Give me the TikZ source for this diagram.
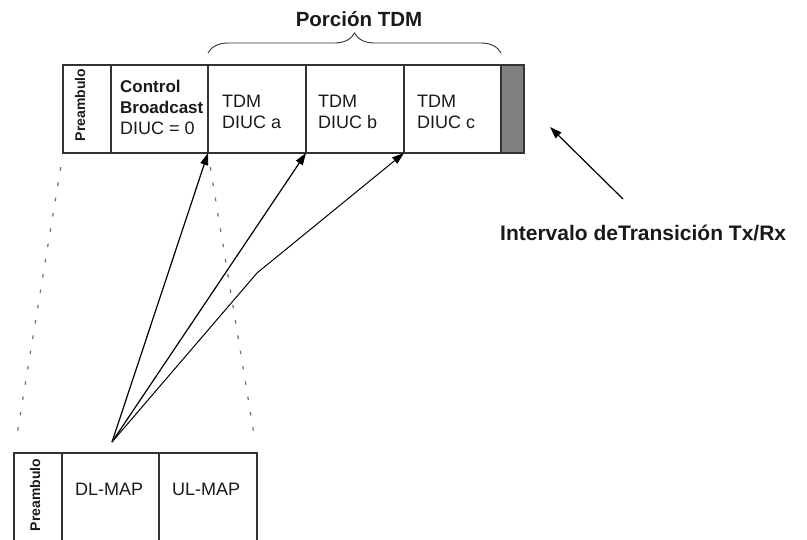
\documentclass[tikz,border=0pt]{standalone}
\usepackage{fontspec}
\setmainfont{Liberation Sans}
\usetikzlibrary{arrows.meta,decorations.pathreplacing,calc}
\definecolor{framec}{HTML}{333333}
\definecolor{gapc}{HTML}{7F7F7F}
\definecolor{txtc}{HTML}{1A1A1A}
\definecolor{dotc}{HTML}{707070}
\begin{document}
\begin{tikzpicture}[x=1pt,y=-1pt,
  cell/.style={draw=framec, line width=1.2pt, minimum height=88pt, inner sep=0pt, outer sep=0pt, anchor=north west},
  bcell/.style={draw=framec, line width=1.2pt, minimum height=130pt, inner sep=0pt, outer sep=0pt, anchor=north west},
  reg/.style={text=txtc, inner sep=0pt, anchor=base west, font=\fontsize{18}{20}\selectfont},
  bld/.style={text=txtc, inner sep=0pt, anchor=base west, font=\fontsize{17}{20}\selectfont\bfseries},
  pre/.style={text=txtc, inner sep=0pt, rotate=90, font=\fontsize{14}{16}\selectfont\bfseries},
  arr/.style={draw=black, line width=1.2pt, -{Triangle[length=12pt,width=8pt]}},
  dots/.style={draw=dotc, line width=1.2pt, dash pattern=on 3.5pt off 12pt},
  bracest/.style={draw=framec, line width=0.9pt, decorate, decoration={brace, amplitude=20pt}}]
\useasboundingbox (0,0) rectangle (807,539);
\clip (0,0) rectangle (807,539);
% top frame
\node[cell, minimum width=48pt] (pre) at (63,65) {};
\node[cell, minimum width=97pt] (ctrl) at (111,65) {};
\node[cell, minimum width=98pt] (tda) at (208,65) {};
\node[cell, minimum width=98pt] (tdb) at (306,65) {};
\node[cell, minimum width=97pt] (tdc) at (404,65) {};
\node[cell, minimum width=23pt, fill=gapc] (gap) at (501,65) {};
\node[pre] (pretxt) at (80,105) {Preambulo};
\node[bld] (c1) at (120,92) {Control};
\node[bld] (c2) at (120,113) {Broadcast};
\node[reg] (c3) at (120,134) {DIUC = 0};
\node[reg] (a1) at (222,107) {TDM};
\node[reg] (a2) at (222,128) {DIUC a};
\node[reg] (b1) at (318,107) {TDM};
\node[reg] (b2) at (318,128) {DIUC b};
\node[reg] (d1) at (417,107) {TDM};
\node[reg] (d2) at (417,128) {DIUC c};
% brace
\draw[bracest] ([yshift=12pt]tda.north west) -- ([yshift=12pt]gap.north west);
\node[text=txtc, inner sep=0pt, anchor=base, font=\fontsize{20.5}{22}\selectfont\bfseries] (porc) at (359,26) {Porción TDM};
% bottom frame
\node[bcell, minimum width=48pt] (bpre) at (14,453) {};
\node[bcell, minimum width=97pt] (dl) at (62,453) {};
\node[bcell, minimum width=98pt] (ul) at (159,453) {};
\node[pre] (bpretxt) at (35,495) {Preambulo};
\node[reg] (dltxt) at (75,495) {DL-MAP};
\node[reg] (ultxt) at (172,495) {UL-MAP};
% dotted zoom lines
\draw[dots] ($(pre.south west)!0.047!(bpre.north west)$) -- ($(pre.south west)!0.963!(bpre.north west)$);
\draw[dots] ($(tda.south west)!0.047!(ul.north east)$) -- ($(tda.south west)!0.963!(ul.north east)$);
% arrows
\coordinate (src) at (112,442);
\coordinate (bend) at (257,273);
\draw[arr] (src) -- (tda.south west);
\draw[arr] (src) -- (tdb.south west);
\draw[arr, line width=1pt] (src) -- (bend) -- (tdc.south west);
% transition label
\coordinate (txs) at (623,199);
\coordinate (txe) at (550,127);
\draw[arr] (txs) -- (txe);
\node[text=txtc, inner sep=0pt, anchor=base west, font=\fontsize{21}{24}\selectfont\bfseries] (lbl) at (500,240) {Intervalo deTransición Tx/Rx};
\end{tikzpicture}
\end{document}
